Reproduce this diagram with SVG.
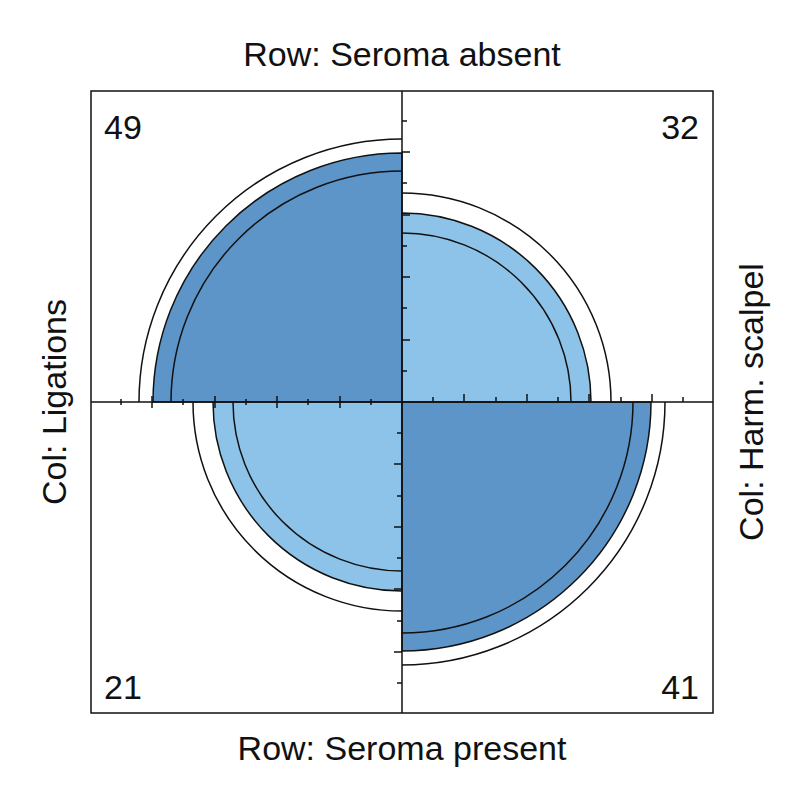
<svg xmlns="http://www.w3.org/2000/svg" width="805" height="800" viewBox="0 0 805 800">
<style>
text{font-family:"Liberation Sans",Arial,sans-serif;font-size:34px;fill:#111}
.dk{fill:#5d95c9;stroke:#111;stroke-width:1.5}
.lt{fill:#8dc3e8;stroke:#111;stroke-width:1.5}
.ln{fill:none;stroke:#111;stroke-width:1.5}
.ax{stroke:#111;stroke-width:1.5}
</style>
<rect width="805" height="800" fill="#fff"/>
<g id="q49">
<path class="ln" d="M402,139 A263,263 0 0 0 139,402"/>
<path class="dk" d="M402,402 L402,153 A249,249 0 0 0 153,402 Z"/>
<path class="ln" d="M402,171 A231,231 0 0 0 171,402"/>
<text x="104" y="139">49</text>
</g>
<g id="q32">
<path class="ln" d="M402,193 A209,209 0 0 1 611,402"/>
<path class="lt" d="M402,402 L402,213 A189,189 0 0 1 591,402 Z"/>
<path class="ln" d="M402,233 A169,169 0 0 1 571,402"/>
<text x="699" y="139" text-anchor="end">32</text>
</g>
<g id="q21">
<path class="ln" d="M193,402 A209,209 0 0 0 402,611"/>
<path class="lt" d="M402,402 L213,402 A189,189 0 0 0 402,591 Z"/>
<path class="ln" d="M233,402 A169,169 0 0 0 402,571"/>
<text x="104" y="699">21</text>
</g>
<g id="q41">
<path class="ln" d="M665,402 A263,263 0 0 1 402,665"/>
<path class="dk" d="M402,402 L651,402 A249,249 0 0 1 402,651 Z"/>
<path class="ln" d="M633,402 A231,231 0 0 1 402,633"/>
<text x="699" y="699" text-anchor="end">41</text>
</g>
<g id="axes">
<rect x="91" y="91" width="622" height="622" fill="none" stroke="#111" stroke-width="1.5"/>
<line class="ax" x1="402" y1="91" x2="402" y2="713"/>
<line class="ax" x1="91" y1="402" x2="713" y2="402"/>
<g class="ax">
<line x1="402" y1="121" x2="407" y2="121"/><line x1="402" y1="152" x2="410" y2="152"/><line x1="402" y1="183" x2="407" y2="183"/><line x1="402" y1="215" x2="410" y2="215"/><line x1="402" y1="246" x2="407" y2="246"/><line x1="402" y1="277" x2="410" y2="277"/><line x1="402" y1="308" x2="407" y2="308"/><line x1="402" y1="340" x2="410" y2="340"/><line x1="402" y1="371" x2="407" y2="371"/>
<line x1="397" y1="433" x2="402" y2="433"/><line x1="394" y1="464" x2="402" y2="464"/><line x1="397" y1="496" x2="402" y2="496"/><line x1="394" y1="527" x2="402" y2="527"/><line x1="397" y1="558" x2="402" y2="558"/><line x1="394" y1="589" x2="402" y2="589"/><line x1="397" y1="621" x2="402" y2="621"/><line x1="394" y1="652" x2="402" y2="652"/><line x1="397" y1="683" x2="402" y2="683"/>
<line x1="121" y1="399" x2="121" y2="405"/><line x1="152" y1="396" x2="152" y2="408"/><line x1="183" y1="399" x2="183" y2="405"/><line x1="215" y1="396" x2="215" y2="408"/><line x1="246" y1="399" x2="246" y2="405"/><line x1="277" y1="396" x2="277" y2="408"/><line x1="308" y1="399" x2="308" y2="405"/><line x1="340" y1="396" x2="340" y2="408"/><line x1="371" y1="399" x2="371" y2="405"/>
<line x1="433" y1="397" x2="433" y2="402"/><line x1="464" y1="394" x2="464" y2="402"/><line x1="496" y1="397" x2="496" y2="402"/><line x1="527" y1="394" x2="527" y2="402"/><line x1="558" y1="397" x2="558" y2="402"/><line x1="589" y1="394" x2="589" y2="402"/><line x1="621" y1="397" x2="621" y2="402"/><line x1="652" y1="394" x2="652" y2="402"/><line x1="683" y1="397" x2="683" y2="402"/>
</g>
</g>
<g id="labels">
<text x="402" y="66" text-anchor="middle">Row: Seroma absent</text>
<text x="402" y="760" text-anchor="middle">Row: Seroma present</text>
<text transform="translate(66,402) rotate(-90)" text-anchor="middle">Col: Ligations</text>
<text transform="translate(763,402) rotate(-90)" text-anchor="middle">Col: Harm. scalpel</text>
</g>
</svg>
